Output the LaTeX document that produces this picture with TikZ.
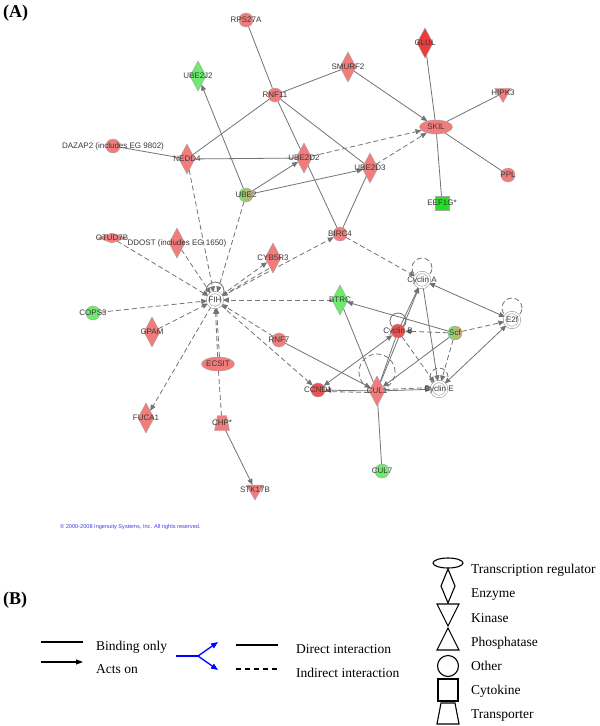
\documentclass[tikz,border=0pt]{standalone}
\usepackage{fontspec}
\setmainfont{Liberation Serif}
\newfontfamily\arialf{Liberation Sans}
\usetikzlibrary{shapes.geometric,arrows.meta}
\pgfdeclarelayer{bg}
\pgfsetlayers{bg,main}
\definecolor{nred}{HTML}{F27C7C}
\definecolor{dred}{HTML}{EE3C3C}
\definecolor{mred}{HTML}{EC5252}
\definecolor{lgreen}{HTML}{6EEA6E}
\definecolor{bgreen}{HTML}{22E022}
\definecolor{mixbrown}{HTML}{E09A6E}
\definecolor{egray}{HTML}{737373}
\definecolor{cpblue}{HTML}{4040F0}
\newcommand\lbf{\arialf\fontsize{8}{9}\selectfont}
\begin{document}
\begin{tikzpicture}[x=1pt,y=-1pt,
  gene/.style={draw=black!35, line width=0.4pt, inner sep=0pt, outer sep=0pt},
  circ/.style={gene, circle, minimum size=14pt},
  dia/.style={gene, diamond, minimum width=16pt, minimum height=30pt},
  ell/.style={gene, ellipse, minimum width=33pt, minimum height=14pt},
  tridown/.style={gene, regular polygon, regular polygon sides=3, shape border rotate=180, minimum size=19pt},
  dbl/.style={circle, draw=black!45, double=white, double distance=1.8pt, line width=0.5pt, fill=white, minimum size=15pt, inner sep=0pt},
  lb/.style={font=\lbf, text=black!78, inner sep=0pt},
  mixed/.style={left color=lgreen, right color=mixbrown},
  e/.style={draw=egray, line width=0.8pt},
  ea/.style={e, -{Triangle[length=6pt,width=5pt]}},
  eaa/.style={e, {Triangle[length=6pt,width=5pt]}-{Triangle[length=6pt,width=5pt]}},
  ed/.style={e, dash pattern=on 5pt off 3pt},
  eda/.style={ed, -{Triangle[length=6pt,width=5pt]}},
  legt/.style={anchor=base west, font=\fontsize{13.5}{15}\selectfont, inner sep=0pt},
  panel/.style={anchor=west, font=\bfseries\fontsize{18}{20}\selectfont, inner sep=0pt}
]
\useasboundingbox (0,0) rectangle (600,726);

\node[panel] (pa) at (3,13) {(A)};
\node[panel] (pb) at (3,600) {(B)};

% ---------- nodes ----------
\node[circ, fill=nred, label={[lb]center:RPS27A}] (rps) at (246,20) {};
\node[dia, fill=lgreen, label={[lb]center:UBE2J2}] (ube2j2) at (198,76) {};
\node[circ, fill=nred, label={[lb]center:RNF11}] (rnf11) at (275,95) {};
\node[dia, fill=nred, label={[lb]center:SMURF2}] (smurf2) at (348,67) {};
\node[dia, fill=dred, label={[lb]center:GLUL}] (glul) at (425,43) {};
\node[tridown, fill=nred, label={[lb]center:HIPK3}] (hipk3) at (503,93) {};
\node[ell, fill=nred, label={[lb]center:SKIL}] (skil) at (436,127) {};
\node[circ, fill=nred, label={[lb]center:PPL}] (ppl) at (508,175) {};
\node[gene, rectangle, minimum size=14pt, fill=bgreen, label={[lb]center:EEF1G*}] (eef) at (442,203) {};
\node[circ, fill=nred, label={[lb]center:DAZAP2 (includes EG 9802)}] (dazap) at (113,146) {};
\node[dia, fill=nred, label={[lb]center:NEDD4}] (nedd4) at (187,159) {};
\node[dia, fill=nred, label={[lb]center:UBE2D2}] (ube2d2) at (304,158) {};
\node[dia, fill=nred, label={[lb]center:UBE2D3}] (ube2d3) at (370,168) {};
\node[circ, mixed, label={[lb]center:UBE2}] (ube2) at (246,195) {};
\node[circ, fill=nred, label={[lb]center:BIRC4}] (birc4) at (340,234) {};
\node[gene, diamond, minimum width=28pt, minimum height=10pt, fill=nred, label={[lb]center:OTUD7B}] (otud) at (112,238) {};
\node[dia, fill=nred, label={[lb]center:DDOST (includes EG 1650)}] (ddost) at (177,243) {};
\node[dia, fill=nred, label={[lb]center:CYB5R3}] (cyb) at (273,258) {};
\node[dbl, label={[lb]center:FIH}] (fih) at (215,300) {};
\node[circ, fill=lgreen, label={[lb]center:COPS3}] (cops) at (93,313) {};
\node[dia, fill=nred, label={[lb]center:GPAM}] (gpam) at (152,332) {};
\node[ell, fill=nred, label={[lb]center:ECSIT}] (ecsit) at (218,364) {};
\node[circ, fill=nred, label={[lb]center:RNF7}] (rnf7) at (279,340) {};
\node[dia, fill=lgreen, label={[lb]center:BTRC}] (btrc) at (340,300) {};
\node[dbl, label={[lb]center:Cyclin A}] (cyca) at (422,280) {};
\node[dbl, label={[lb]center:E2f}] (e2f) at (512,320) {};
\node[circ, fill=mred, label={[lb]center:Cyclin B}] (cycb) at (398,331) {};
\node[circ, mixed, label={[lb]center:Scf}] (scf) at (455,333) {};
\node[dbl, label={[lb]center:Cyclin E}] (cyce) at (439,389) {};
\node[dia, fill=nred, label={[lb]center:CUL1}] (cul1) at (377,391) {};
\node[circ, fill=mred, label={[lb]center:CCND1}] (ccnd1) at (318,390) {};
\node[circ, fill=lgreen, label={[lb]center:CUL7}] (cul7) at (382,471) {};
\node[dia, fill=nred, label={[lb]center:FUCA1}] (fuca) at (146,418) {};
\node[gene, trapezium, inner sep=2pt, trapezium stretches=true, trapezium left angle=72, trapezium right angle=72, minimum width=15pt, minimum height=15pt, fill=nred, label={[lb]center:CHP*}] (chp) at (222,423) {};
\node[tridown, minimum size=20pt, fill=nred, label={[lb]center:STK17B}] (stk) at (255,490) {};

\node[anchor=west, inner sep=0pt, text=cpblue, font=\arialf\fontsize{5.6}{6}\selectfont] (copy) at (60,527) {© 2000-2008 Ingenuity Systems, Inc. All rights reserved.};

% ---------- edges ----------
\begin{pgfonlayer}{bg}
\fill[white] (0,0) rectangle (600,726);
% self loops
\draw[e] (215,291) circle (9pt);
\draw[ed] (422,268) circle (10pt);
\draw[ed] (512,308) circle (10pt);
\draw[e] (398,321) circle (8pt);
\draw[ed] (377,372) circle (18pt);
\draw[ed] (439,377) circle (9pt);

\draw[e] (rps) -- (rnf11);
\draw[e] (rnf11) -- (smurf2);
\draw[e] (rnf11) -- (nedd4);
\draw[e] (rnf11) -- (birc4);
\draw[e] (rnf11) -- (ube2d3);
\draw[ea] (smurf2) -- (skil);
\draw[e] (glul) -- (skil);
\draw[e] (hipk3) -- (skil);
\draw[e] (ppl) -- (skil);
\draw[e] (eef) -- (skil);
\draw[eda] (ube2d2) -- (skil);
\draw[eda] (ube2d3) -- (skil);
\draw[e] (dazap) -- (nedd4);
\draw[e] (nedd4) -- (ube2d2);
\draw[ea] (ube2) -- (ube2j2);
\draw[ea] (ube2) -- (ube2d2);
\draw[ea] (ube2) -- (ube2d3);
\draw[e] (ube2d3) -- (birc4);

\draw[eda] (nedd4) -- (fih);
\draw[eda] (ube2) -- (fih);
\draw[eda] (otud) -- (fih);
\draw[eda] (ddost) -- (fih);
\draw[eda] (cops) -- (fih);
\draw[eda] (gpam) -- (fih);
\draw[eda] (ecsit) -- (fih);
\draw[eda] ([xshift=1.5pt]ecsit.north) -- ([xshift=1.5pt]fih.south);
\draw[eda] (fih) -- (cyb);
\draw[eda] ([yshift=-3pt]cyb.south west) -- (fih);
\draw[eda] (fih) -- (birc4);
\draw[eda] (btrc) -- (fih);
\draw[eda] (birc4) -- (cyca);
\draw[eda] (rnf7) -- (fih);
\draw[eda] (fih) -- (ccnd1);
\draw[eda] (fih) -- (fuca);
\draw[ed] (ecsit) -- (chp);
\draw[ea] (chp) -- (stk);

\draw[ea] (rnf7) -- (cul1);
\draw[e] (btrc) -- (cul1);
\draw[ea] (scf) -- (btrc);
\draw[eaa] (cyca) -- (e2f);
\draw[ea] (cyca) -- (cyce);
\draw[ea] (scf) -- (cul1);
\draw[ea] (cul1) -- (cyca);
\draw[ea] (cycb) -- (cyca);
\draw[e] (cul1) -- (cycb);
\draw[eaa] (ccnd1) -- (cycb);
\draw[ea] (cul1) -- (ccnd1);
\draw[ed] ([yshift=-1.5pt]cul1.west) -- ([yshift=-1.5pt]ccnd1.east);
\draw[ea] (cul1) -- (cyce);
\draw[eda] ([yshift=1.5pt]cul1.east) -- ([yshift=1.5pt]cyce.west);
\draw[eaa] (e2f) -- (cyce);
\draw[eda] (scf) -- (cycb);
\draw[eda] (scf) -- (e2f);
\draw[eda] (scf) -- (cyce);
\draw[eda] (cycb) -- (cyce);
\draw[e] (cul1) -- (cul7);
\end{pgfonlayer}

% ---------- legend ----------
\coordinate (b1) at (41,642); \coordinate (b2) at (83,642);
\draw[line width=1.1pt] (b1) -- (b2);
\coordinate (a1) at (41,662); \coordinate (a2) at (83,662);
\draw[line width=1.1pt, -{Triangle[length=7pt,width=5pt]}] (a1) -- (a2);
\node[legt] (lbind) at (96,650) {Binding only};
\node[legt] (lacts) at (96,673) {Acts on};

\coordinate (bl0) at (176,656); \coordinate (bl1) at (198,656);
\coordinate (bl2) at (218,642); \coordinate (bl3) at (218,670);
\draw[blue, line width=1.3pt] (bl0) -- (bl1);
\draw[blue, line width=1.3pt, -{Triangle[length=7pt,width=5.5pt]}] (bl1) -- (bl2);
\draw[blue, line width=1.3pt, -{Triangle[length=7pt,width=5.5pt]}] (bl1) -- (bl3);

\coordinate (d1) at (236,645); \coordinate (d2) at (278,645);
\draw[line width=1.1pt] (d1) -- (d2);
\coordinate (i1) at (236,669); \coordinate (i2) at (278,669);
\draw[line width=1.1pt, dash pattern=on 5pt off 4pt] (i1) -- (i2);
\node[legt] (ldir) at (296,653) {Direct interaction};
\node[legt] (lind) at (296,677) {Indirect interaction};

\begin{scope}[line width=1.1pt]
\draw (448,563) ellipse (15pt and 5pt);
\draw (448,569) -- (455,586) -- (448,603) -- (441,586) -- cycle;
\draw (437,604) -- (459,604) -- (448,626) -- cycle;
\draw (448,628) -- (459,650) -- (437,650) -- cycle;
\draw (448,666) circle (10.5pt);
\draw (438,679) rectangle (458,701);
\draw (441,703) -- (455,703) -- (459,724) -- (437,724) -- cycle;
\end{scope}
\node[legt] (lt1) at (471,573) {Transcription regulator};
\node[legt] (lt2) at (471,597) {Enzyme};
\node[legt] (lt3) at (471,622) {Kinase};
\node[legt] (lt4) at (471,646) {Phosphatase};
\node[legt] (lt5) at (471,670) {Other};
\node[legt] (lt6) at (471,694) {Cytokine};
\node[legt] (lt7) at (471,718) {Transporter};
\end{tikzpicture}
\end{document}
